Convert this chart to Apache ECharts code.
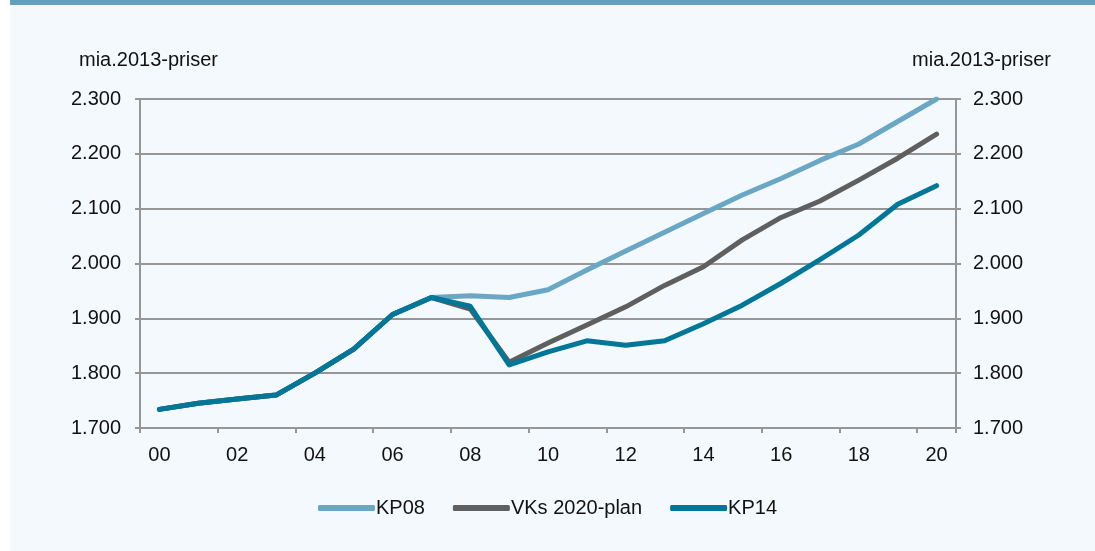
<!DOCTYPE html>
<html>
<head>
<meta charset="utf-8">
<script src="https://cdn.jsdelivr.net/npm/echarts@6/dist/echarts.min.js"></script>
<style>
  html, body { margin: 0; padding: 0; background: #ffffff; }
  #chart { width: 1095px; height: 551px; }
</style>
</head>
<body>
<div id="chart"></div>
<script>
// Years 2000–2020, shown as two-digit labels
const years = ['00','01','02','03','04','05','06','07','08','09','10',
               '11','12','13','14','15','16','17','18','19','20'];

// Public spending, billion DKK in 2013 prices
const kp08 = [1734, 1745, 1753, 1760, 1800, 1844, 1907, 1938, 1941, 1938, 1952,
              1988, 2023, 2057, 2091, 2125, 2155, 2188, 2218, 2259, 2300];
const vks2020 = [1734, 1745, 1753, 1760, 1800, 1844, 1907, 1938, 1917, 1820, 1855,
                 1888, 1921, 1960, 1994, 2043, 2084, 2114, 2152, 2192, 2236];
const kp14 = [1734, 1745, 1753, 1760, 1800, 1844, 1907, 1938, 1922, 1815, 1839,
              1859, 1851, 1859, 1890, 1924, 1964, 2007, 2052, 2108, 2142];

const yTicks = { min: 1700, max: 2300, interval: 100 };
const unitLabel = 'mia.2013-priser';

const fontFamily = '"Liberation Sans", Arial, sans-serif';
const textColor = '#111111';
const axisGrey = '#969696';

function fmt(v) {
  return String(v).replace(/\B(?=(\d{3})+(?!\d))/g, '.');
}

function valueAxis(position, labelMargin) {
  return {
    type: 'value',
    position: position,
    min: yTicks.min,
    max: yTicks.max,
    interval: yTicks.interval,
    axisLine: { show: true, lineStyle: { color: axisGrey, width: 2 } },
    axisTick: { show: true, length: 5, lineStyle: { color: axisGrey, width: 2 } },
    splitLine: { show: position === 'left', lineStyle: { color: axisGrey, width: 2 } },
    axisLabel: {
      margin: labelMargin,
      color: textColor,
      fontSize: 20,
      fontFamily: fontFamily,
      formatter: fmt
    }
  };
}

function lineSeries(name, data, color) {
  return {
    name: name,
    type: 'line',
    data: data,
    symbol: 'none',
    lineStyle: { color: color, width: 5, cap: 'round', join: 'round' },
    itemStyle: { color: color },
    emphasis: { disabled: true }
  };
}

const chart = echarts.init(document.getElementById('chart'), null, { renderer: 'canvas' });

chart.setOption({
  backgroundColor: '#ffffff',
  animation: false,
  textStyle: { fontFamily: fontFamily },
  graphic: [
    { type: 'rect', left: 10, top: 0, z: -10,
      shape: { width: 1085, height: 551 }, style: { fill: '#f4f9fd' } },
    { type: 'rect', left: 10, top: 0, z: -9,
      shape: { width: 1085, height: 5 }, style: { fill: '#649fbe' } },
    { type: 'text', left: 79, top: 50,
      style: { text: unitLabel, fill: textColor, fontSize: 20, fontFamily: fontFamily } },
    { type: 'text', right: 44, top: 50,
      style: { text: unitLabel, fill: textColor, fontSize: 20, fontFamily: fontFamily } }
  ],
  grid: { left: 140, right: 139, top: 99, bottom: 123, containLabel: false },
  legend: {
    bottom: 28,
    left: 'center',
    itemWidth: 57,
    itemHeight: 6,
    itemGap: 28,
    icon: 'roundRect',
    textStyle: { color: textColor, fontSize: 20, fontFamily: fontFamily, padding: [0, 0, 0, -4] },
    data: ['KP08', 'VKs 2020-plan', 'KP14']
  },
  xAxis: {
    type: 'category',
    data: years,
    boundaryGap: true,
    axisLine: { show: true, lineStyle: { color: axisGrey, width: 2 } },
    axisTick: { show: true, interval: 1, length: 5, lineStyle: { color: axisGrey, width: 2 } },
    axisLabel: { interval: 1, margin: 17, color: textColor, fontSize: 20, fontFamily: fontFamily }
  },
  yAxis: [valueAxis('left', 19), valueAxis('right', 17)],
  series: [
    lineSeries('KP08', kp08, '#6aa7c4'),
    lineSeries('VKs 2020-plan', vks2020, '#5f5f5f'),
    lineSeries('KP14', kp14, '#007698')
  ]
});
</script>
</body>
</html>
